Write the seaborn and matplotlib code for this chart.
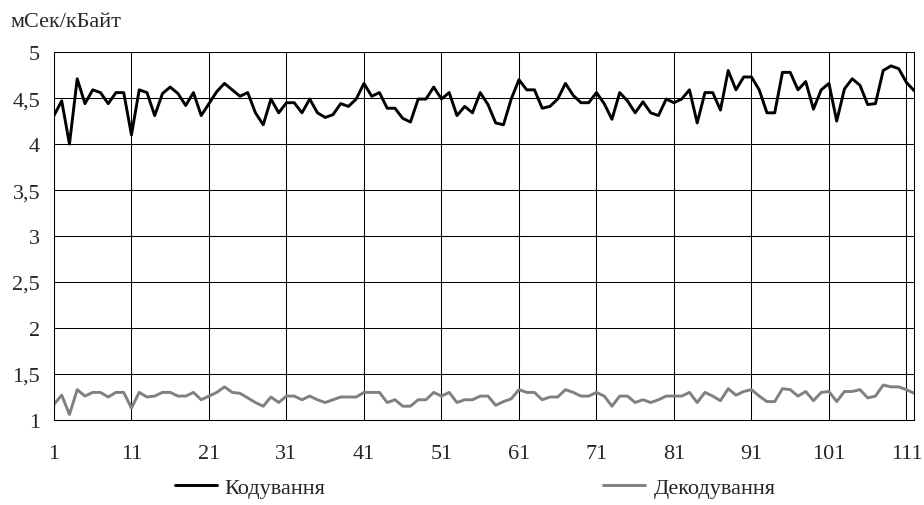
import numpy as np
import pandas as pd
import matplotlib
matplotlib.use("Agg")
import matplotlib.pyplot as plt
import matplotlib.ticker as mticker
import seaborn as sns

# Measurement index (1..112)
index = list(range(1, 113))

# Encoding time, ms per KB
encoding = [
    4.31, 4.47, 4.00, 4.71, 4.44, 4.59, 4.56, 4.44, 4.56, 4.56,
    4.10, 4.59, 4.56, 4.31, 4.55, 4.62, 4.55, 4.42, 4.56, 4.31,
    4.44, 4.57, 4.66, 4.59, 4.52, 4.56, 4.34, 4.21, 4.49, 4.34,
    4.45, 4.45, 4.34, 4.49, 4.34, 4.29, 4.32, 4.44, 4.41, 4.49,
    4.66, 4.52, 4.56, 4.39, 4.39, 4.28, 4.24, 4.49, 4.49, 4.62,
    4.49, 4.56, 4.31, 4.41, 4.34, 4.56, 4.43, 4.23, 4.21, 4.49,
    4.70, 4.59, 4.59, 4.39, 4.41, 4.49, 4.66, 4.53, 4.45, 4.45,
    4.56, 4.44, 4.27, 4.56, 4.47, 4.34, 4.46, 4.34, 4.31, 4.49,
    4.45, 4.49, 4.59, 4.23, 4.56, 4.56, 4.37, 4.80, 4.59, 4.73,
    4.73, 4.59, 4.34, 4.34, 4.78, 4.78, 4.59, 4.68, 4.38, 4.59,
    4.66, 4.25, 4.60, 4.71, 4.64, 4.43, 4.44, 4.80, 4.85, 4.82,
    4.67, 4.58,
]

# Decoding time, ms per KB
decoding = [
    1.17, 1.27, 1.06, 1.33, 1.26, 1.30, 1.30, 1.25, 1.30, 1.30,
    1.13, 1.30, 1.25, 1.26, 1.30, 1.30, 1.26, 1.26, 1.30, 1.22,
    1.26, 1.30, 1.36, 1.30, 1.29, 1.24, 1.19, 1.15, 1.25, 1.19,
    1.26, 1.26, 1.22, 1.26, 1.22, 1.19, 1.22, 1.25, 1.25, 1.25,
    1.30, 1.30, 1.30, 1.19, 1.22, 1.15, 1.15, 1.22, 1.22, 1.30,
    1.26, 1.30, 1.19, 1.22, 1.22, 1.26, 1.26, 1.16, 1.20, 1.23,
    1.33, 1.30, 1.30, 1.22, 1.25, 1.25, 1.33, 1.30, 1.26, 1.26,
    1.30, 1.26, 1.15, 1.26, 1.26, 1.19, 1.22, 1.19, 1.22, 1.26,
    1.26, 1.26, 1.30, 1.19, 1.30, 1.26, 1.21, 1.34, 1.27, 1.31,
    1.33, 1.26, 1.20, 1.20, 1.34, 1.33, 1.26, 1.31, 1.21, 1.30,
    1.31, 1.20, 1.31, 1.31, 1.33, 1.24, 1.26, 1.38, 1.36, 1.36,
    1.33, 1.29,
]

series_names = ["Кодування", "Декодування"]
series_colors = ["#000000", "#808080"]
x_ticks = list(range(1, 112, 10))
y_ticks = [1, 1.5, 2, 2.5, 3, 3.5, 4, 4.5, 5]
y_title = "мСек/кБайт"

df = pd.DataFrame({
    "idx": index * 2,
    "value": encoding + decoding,
    "series": [series_names[0]] * len(index) + [series_names[1]] * len(index),
})

sns.set_style("white")
plt.rcParams["font.family"] = ["Liberation Serif", "DejaVu Serif"]
FS = 16
plt.rcParams["font.size"] = FS

fig = plt.figure(figsize=(9.24, 5.06), dpi=100)
ax = fig.add_axes([0.0584, 0.168, 0.931, 0.727])

sns.lineplot(
    data=df, x="idx", y="value", hue="series",
    palette=dict(zip(series_names, series_colors)),
    linewidth=2.1, ax=ax, legend=False,
)

ax.set_xlim(1, 112)
ax.set_ylim(1, 5)
ax.set_xticks(x_ticks)
ax.set_yticks(y_ticks)
ax.yaxis.set_major_formatter(
    mticker.FuncFormatter(lambda v, p: f"{v:g}".replace(".", ",")))
ax.set_xlabel("")
ax.set_ylabel("")

ax.grid(True, color="black", linewidth=0.75)
ax.set_axisbelow(True)
for side in ["left", "bottom", "right"]:
    ax.spines[side].set_visible(True)
    ax.spines[side].set_color("black")
    ax.spines[side].set_linewidth(0.75)
ax.spines["top"].set_visible(False)
ax.tick_params(axis="both", which="major", length=4, width=0.75,
               color="black", direction="out", labelsize=FS)
ax.tick_params(axis="y", pad=6)
ax.tick_params(axis="x", pad=13)

fig.text(0.011, 0.955, y_title, fontsize=FS, ha="left", va="center")

handles = [plt.Line2D([], [], color=c, linewidth=2.1) for c in series_colors]
fig.legend(handles, series_names, loc="center", ncol=2,
           bbox_to_anchor=(0.514, 0.034), frameon=False,
           handlelength=1.9, handletextpad=0.35, columnspacing=12.5,
           fontsize=FS)

fig.savefig("out.png", dpi=100)
